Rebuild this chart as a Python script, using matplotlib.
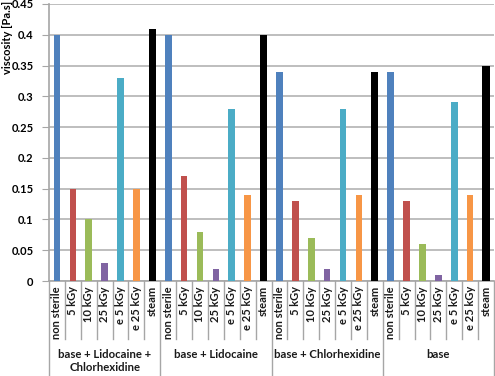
import matplotlib
matplotlib.use("Agg")
import matplotlib.pyplot as plt
import matplotlib.transforms as mtransforms

plt.rcParams['font.family'] = ['Lato', 'DejaVu Sans']

categories = ["non sterile", "5 kGy", "10 kGy", "25 kGy", "e 5 kGy", "e 25 kGy", "steam"]
groups = ["base + Lidocaine +\nChlorhexidine", "base + Lidocaine", "base + Chlorhexidine", "base"]
values = [
    [0.40, 0.15, 0.10, 0.03, 0.33, 0.15, 0.41],
    [0.40, 0.17, 0.08, 0.02, 0.28, 0.14, 0.40],
    [0.34, 0.13, 0.07, 0.02, 0.28, 0.14, 0.34],
    [0.34, 0.13, 0.06, 0.01, 0.29, 0.14, 0.35],
]
colors = ["#4F81BD", "#C0504D", "#9BBB59", "#8064A2", "#4BACC6", "#F79646", "#000000"]
yticks = [0, 0.05, 0.1, 0.15, 0.2, 0.25, 0.3, 0.35, 0.4, 0.45]
ytick_labels = ["0", "0.05", "0.1", "0.15", "0.2", "0.25", "0.3", "0.35", "0.4", "0.45"]

W, H = 495, 376
fig = plt.figure(figsize=(W / 100, H / 100), dpi=100)
x0, x1 = 49, 494
y_top, y_bot = 4, 281
ax = fig.add_axes([x0 / W, (H - y_bot) / H, (x1 - x0) / W, (y_bot - y_top) / H])
ah = y_bot - y_top

n = len(categories)
for g, vals in enumerate(values):
    for c, v in enumerate(vals):
        xi = g * n + c
        w = 0.45 if c == n - 1 else 0.42
        ax.bar(xi, v, width=w, color=colors[c], zorder=3)

ax.set_xlim(-0.5, len(groups) * n - 0.5)
ax.set_ylim(0, 0.45)
ax.set_yticks(yticks)
ax.set_yticklabels(ytick_labels, fontsize=8, fontweight='bold')
ax.tick_params(axis='y', length=5, color='#A6A6A6', pad=6)
ax.set_xticks([])
ax.grid(axis='y', color='#B3B3B3', linewidth=1.2, zorder=0)
for s in ['top', 'right']:
    ax.spines[s].set_visible(False)
for s in ['left', 'bottom']:
    ax.spines[s].set_color('#A6A6A6')
    ax.spines[s].set_linewidth(1.2)

trans = mtransforms.blended_transform_factory(ax.transData, ax.transAxes)
total = len(groups) * n
for i in range(total + 1):
    xb = i - 0.5
    if i % n == 0:
        yend = -(H - y_bot) / ah
    else:
        yend = -58 / ah
    ax.plot([xb, xb], [0, yend], transform=trans, color='#A6A6A6',
            linewidth=1.0, clip_on=False, zorder=1)

for g in range(len(groups)):
    for c in range(n):
        ax.text(g * n + c, -5 / ah, categories[c], transform=trans, rotation=90,
                ha='center', va='top', fontsize=8, fontweight='bold', color='#1a1a1a')
    ax.text(g * n + (n - 1) / 2, -(361 - y_bot) / ah if "\n" in groups[g] else -(355 - y_bot) / ah,
            groups[g], transform=trans, ha='center', va='center', fontsize=8.2,
            fontweight='bold', color='#1a1a1a', linespacing=1.3)

fig.text(8 / W, 1 - 1 / H, "viscosity [Pa.s]", rotation=90, ha='center', va='top',
         fontsize=8, fontweight='bold')

fig.savefig("out.png", dpi=100)
